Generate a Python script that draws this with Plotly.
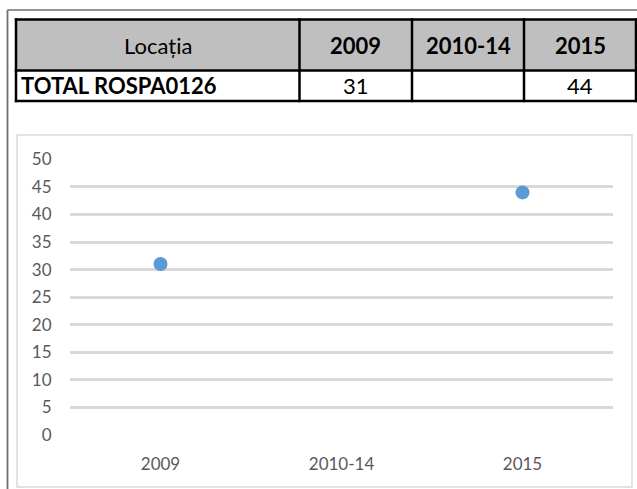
import plotly.graph_objects as go

W, H = 637, 489

# ---- data ----
categories = ["2009", "2010-14", "2015"]
values = [31, None, 44]
location = "TOTAL ROSPA0126"
location_header = "Locația"
y_ticks = [0, 5, 10, 15, 20, 25, 30, 35, 40, 45, 50]


def px(x):
    return x / W


def py(y):
    return 1 - y / H


fig = go.Figure()

# scatter chart
fig.add_trace(go.Scatter(
    x=categories, y=values, mode="markers",
    marker=dict(color="#5B9BD5", size=14),
    showlegend=False, hoverinfo="skip",
))

# ---- table layout (pixels) ----
col_edges = [16, 299.5, 412, 524, 636]
row_edges = [19.5, 70.5, 101]
FONT = "Lato"

shapes = []
annotations = []

# header fill
shapes.append(dict(type="rect", xref="paper", yref="paper",
                   x0=px(col_edges[0]), x1=px(col_edges[-1]),
                   y0=py(row_edges[1]), y1=py(row_edges[0]),
                   fillcolor="#BFBFBF", line=dict(width=0), layer="above"))
# grid lines
for x in col_edges:
    shapes.append(dict(type="line", xref="paper", yref="paper",
                       x0=px(x), x1=px(x), y0=py(row_edges[-1] + 1.2), y1=py(row_edges[0] - 1.2),
                       line=dict(color="black", width=2.5)))
for y in row_edges:
    shapes.append(dict(type="line", xref="paper", yref="paper",
                       x0=px(col_edges[0] - 1.2), x1=px(col_edges[-1] + 1.2), y0=py(y), y1=py(y),
                       line=dict(color="black", width=2.5)))

header_texts = [location_header] + ["<b>%s</b>" % c for c in categories]
row_texts = ["<b>%s</b>" % location] + ["" if v is None else str(v) for v in values]
hy = (row_edges[0] + row_edges[1]) / 2 + 1
ry = (row_edges[1] + row_edges[2]) / 2
for i, t in enumerate(header_texts):
    cx = (col_edges[i] + col_edges[i + 1]) / 2
    annotations.append(dict(xref="paper", yref="paper", x=px(cx), y=py(hy),
                            text=t, showarrow=False, xanchor="center", yanchor="middle",
                            font=dict(family=FONT, size=22, color="black")))
for i, t in enumerate(row_texts):
    if i == 0:
        annotations.append(dict(xref="paper", yref="paper", x=px(col_edges[0] + 3), y=py(ry),
                                text=t, showarrow=False, xanchor="left", yanchor="middle",
                                font=dict(family=FONT, size=22, color="black")))
    else:
        cx = (col_edges[i] + col_edges[i + 1]) / 2
        annotations.append(dict(xref="paper", yref="paper", x=px(cx), y=py(ry),
                                text=t, showarrow=False, xanchor="center", yanchor="middle",
                                font=dict(family=FONT, size=22, color="black")))

# outer frame
shapes.append(dict(type="line", xref="paper", yref="paper",
                   x0=px(7.5), x1=px(7.5), y0=py(489), y1=py(10),
                   line=dict(color="#6F6F6F", width=1.8)))
shapes.append(dict(type="line", xref="paper", yref="paper",
                   x0=px(7.5), x1=px(637), y0=py(10), y1=py(10),
                   line=dict(color="#6F6F6F", width=1.5)))
# chart frame
shapes.append(dict(type="rect", xref="paper", yref="paper",
                   x0=px(17), x1=px(632), y0=py(487), y1=py(135),
                   line=dict(color="#D9D9D9", width=1.5), layer="below"))

fig.update_layout(
    width=W, height=H,
    margin=dict(l=0, r=0, t=0, b=0, autoexpand=False),
    paper_bgcolor="white", plot_bgcolor="white",
    xaxis=dict(
        domain=[px(70), px(613)],
        type="category", range=[-0.5, 2.5], automargin=False,
        showgrid=False, zeroline=False, showline=False,
        ticks="outside", ticklen=14, tickcolor="rgba(0,0,0,0)",
        tickfont=dict(family=FONT, size=17, color="#595959"),
        fixedrange=True,
    ),
    yaxis=dict(
        domain=[py(435), py(159.3)],
        range=[0, 50], tickvals=y_ticks, automargin=False,
        showgrid=True, gridcolor="#D9D9D9", gridwidth=2.5,
        zeroline=False, showline=False,
        ticks="outside", ticklen=14, tickcolor="rgba(0,0,0,0)",
        tickfont=dict(family=FONT, size=17, color="#595959"),
        fixedrange=True,
    ),
    shapes=shapes,
    annotations=annotations,
)

fig.write_html("out.html", config={"displayModeBar": False},
               post_script="document.body.style.margin='0';document.body.style.overflow='hidden';")
